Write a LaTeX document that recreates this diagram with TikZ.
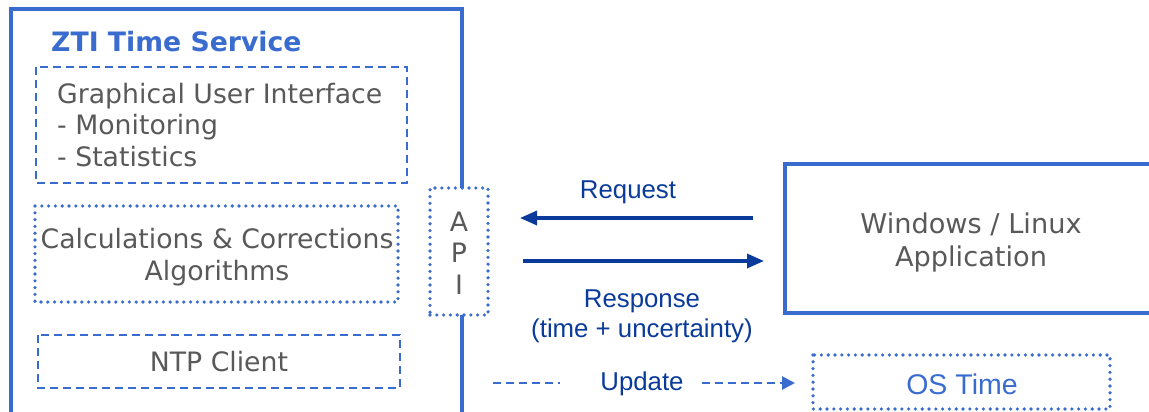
\documentclass[tikz,border=0pt]{standalone}
\usepackage{fontspec}
\setmainfont{DejaVu Sans}
\newfontfamily\arialf{Liberation Sans}
\usetikzlibrary{arrows.meta,calc}
\definecolor{lblue}{HTML}{3A6BCF}
\definecolor{dblue}{HTML}{0A3A9A}
\definecolor{txtgray}{HTML}{595959}
\tikzset{
  solidbox/.style={draw=lblue,line width=4pt},
  dashbox/.style={draw=lblue,line width=2.6pt,dash pattern=on 8pt off 5pt},
  dotbox/.style={draw=lblue,line width=3.6pt,dash pattern=on 0pt off 6.8pt,line cap=round},
  graytxt/.style={text=txtgray,font=\fontsize{26.7}{31.5}\selectfont,inner sep=0pt},
  bluelbl/.style={text=dblue,font=\arialf\fontsize{25.8}{30}\selectfont,inner sep=0pt},
  arr/.style={draw=dblue,line width=3.3pt,-{Triangle[length=17pt,width=14pt]}},
  updline/.style={draw=lblue,line width=2.8pt,dash pattern=on 8pt off 5pt},
}
\begin{document}
\begin{tikzpicture}[x=1pt,y=-1pt]
\useasboundingbox (0,0) rectangle (1149,412);
\clip (0,0) rectangle (1149,412);
% main service box
\draw[solidbox] (11,9.5) rectangle (461.5,440);
\node[anchor=west,text=lblue,font=\bfseries\fontsize{26.7}{30}\selectfont,inner sep=0pt] (title) at (51,42) {ZTI Time Service};
% GUI box
\draw[dashbox] (36,67) rectangle (407,183);
\node[graytxt,anchor=north west,align=left] (gui) at (57,83) {Graphical User Interface\\- Monitoring\\- Statistics};
% Calculations box
\draw[dotbox] (35,206) rectangle (398,302);
\node[graytxt,align=center] (calc) at (217,257) {Calculations \& Corrections\\Algorithms};
% NTP box
\draw[dashbox] (38,335) rectangle (400,388);
\node[graytxt] (ntp) at (219,362) {NTP Client};
% API box
\node[dotbox,fill=white,minimum width=58pt,minimum height=127pt,inner sep=0pt] (api) at (459,251.5) {};
\node[graytxt,align=center] (apitxt) at (459,253) {A\\P\\I};
% application box
\draw[draw=lblue,line width=4.5pt] (785,164) rectangle (1160,313);
\coordinate (app) at (785,238);
\node[graytxt,align=center,font=\fontsize{27.2}{33}\selectfont] (apptxt) at (971,242) {Windows / Linux\\Application};
% OS time
\draw[dotbox] (813,355) rectangle (1110,409);
\coordinate (os) at (813,383);
\node[text=lblue,font=\arialf\fontsize{28.5}{30}\selectfont,inner sep=0pt] (ostxt) at (962,384) {OS Time};
% arrows
\coordinate (reqs) at (753,218);
\coordinate (reqe) at (520,218);
\draw[arr] (reqs) -- (reqe);
\node[bluelbl] (reqlbl) at (628,192) {Request};
\coordinate (ress) at (523,261);
\coordinate (rese) at (764,261);
\draw[arr] (ress) -- (rese);
\node[bluelbl,align=center] (reslbl) at (642,316) {Response\\(time + uncertainty)};
% update
\coordinate (upds) at (493,383);
\node[bluelbl] (updlbl) at (642,384) {Update};
\draw[updline] (upds) -- (560,383);
\draw[updline,-{Triangle[length=13pt,width=13pt]}] ($(updlbl.east)+(18,-1)$) -- ($(os)+(-18,0)$);
\end{tikzpicture}
\end{document}
